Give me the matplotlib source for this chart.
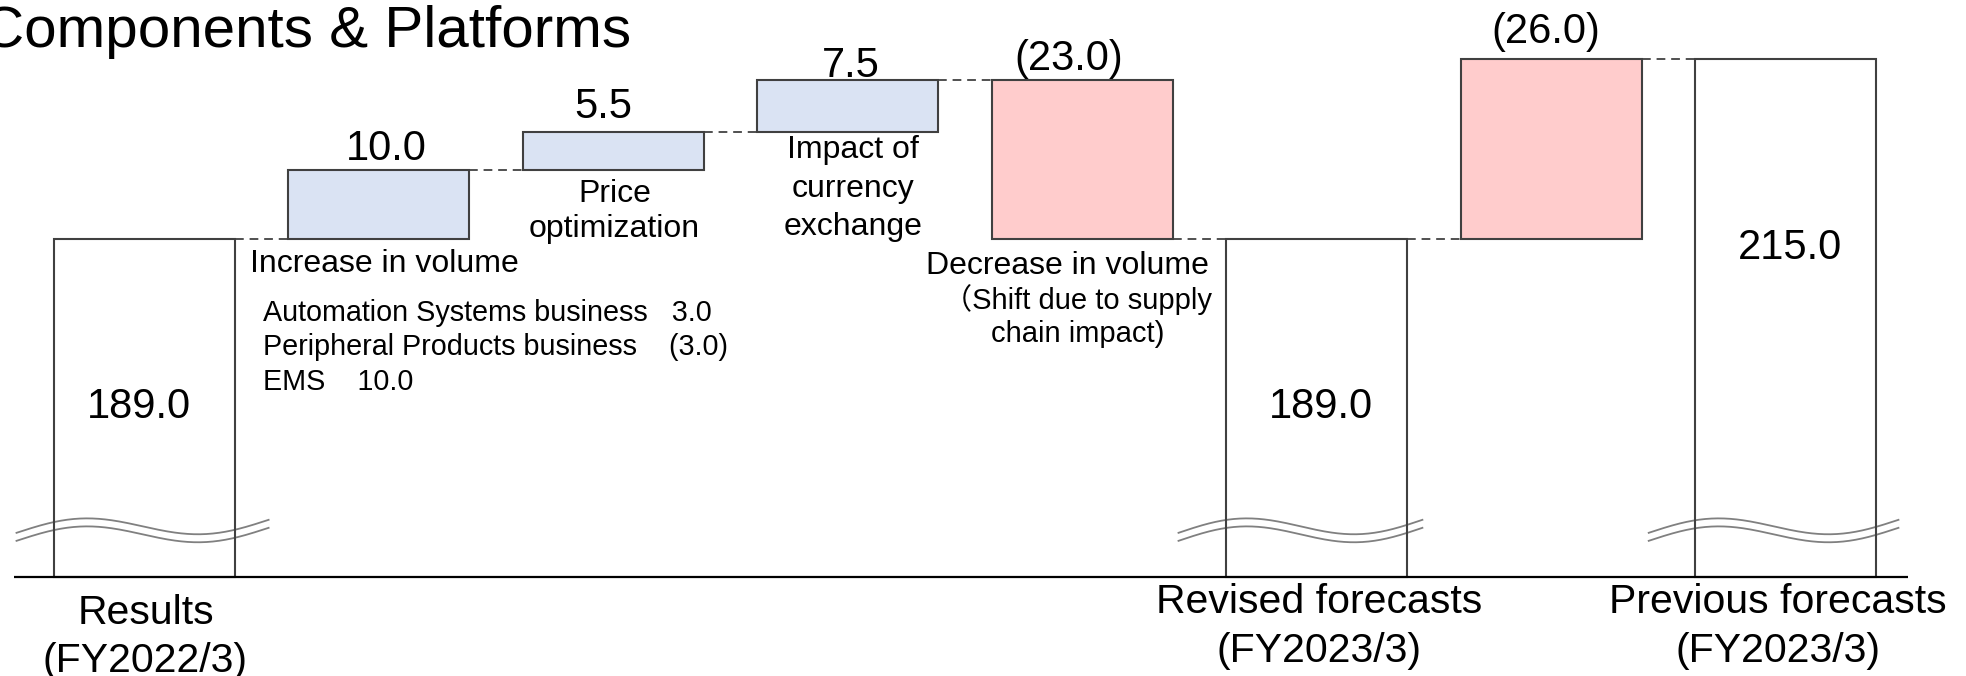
import numpy as np
import matplotlib.pyplot as plt

plt.rcParams['font.family'] = ['Liberation Sans', 'Noto Sans CJK JP', 'DejaVu Sans']

# data
title = 'Components & Platforms'
start_label = ['Results', '(FY2022/3)']
start_value = 189.0
change_names = [['Increase in volume'], ['Price', 'optimization'],
                ['Impact of', 'currency', 'exchange'], ['Decrease in volume']]
change_values = [10.0, 5.5, 7.5, -23.0]
revised_label = ['Revised forecasts', '(FY2023/3)']
revised_value = 189.0
previous_label = ['Previous forecasts', '(FY2023/3)']
previous_value = 215.0
volume_names = ['Automation Systems business', 'Peripheral Products business', 'EMS']
volume_values = [3.0, -3.0, 10.0]
supply_note = ['（Shift due to supply', 'chain impact)']
axis_floor = 140.0  # broken axis starts here

blue = '#dae3f3'
red = '#ffcccc'
edge = '#404040'
w = 0.772


def fmt(v):
    return f'{v:.1f}' if v >= 0 else f'({-v:.1f})'


# waterfall geometry
bottoms, tops, fills, levels = [axis_floor], [start_value], ['white'], [start_value]
level = start_value
for v in change_values:
    lo, hi = sorted([level, level + v])
    bottoms.append(lo)
    tops.append(hi)
    fills.append(blue if v > 0 else red)
    level += v
    levels.append(level)
bottoms.append(axis_floor)
tops.append(revised_value)
fills.append('white')
levels.append(revised_value)
gap = revised_value - previous_value
bottoms.append(min(revised_value, previous_value))
tops.append(max(revised_value, previous_value))
fills.append(red if gap < 0 else blue)
levels.append(previous_value)
bottoms.append(axis_floor)
tops.append(previous_value)
fills.append('white')

x = np.arange(len(tops))
heights = np.array(tops) - np.array(bottoms)

fig = plt.figure(figsize=(19.66, 6.76), dpi=100)
ax = fig.add_axes([0, 0, 1, 1])
ax.set_xlim(-0.6154, 7.768)
ax.set_ylim(125.65, 223.62)
ax.axis('off')

ax.bar(x, heights, bottom=bottoms, width=w, color=fills, edgecolor='none', zorder=1)
ax.bar(x, heights, bottom=bottoms, width=w, fill=False, edgecolor=edge, lw=1.5, zorder=3)

# connectors
ax.hlines(levels, x[:-1] + w / 2, x[1:] - w / 2, colors='#505050',
          linestyles=(0, (4.5, 3)), lw=1.4, zorder=2)

# wavy break marks on the total bars
t = np.linspace(0, 1, 200)
wave = (13 * t + 11 * np.sin(2 * np.pi * t)) / 6.9
band = 1.16
for i, (l, r) in zip([0, 5, 7], [(-0.545, 0.53), (-0.59, 0.45), (-0.585, 0.48)]):
    xs = i + l + (r - l) * t
    up = 146.4 + wave
    ax.fill_between(xs, up - band, up, color='white', lw=0, zorder=2)
    ax.plot(xs, up, color='#808080', lw=1.3, zorder=2.5)
    ax.plot(xs, up - band, color='#808080', lw=1.3, zorder=2.5)

ax.plot([-0.556, 7.521], [axis_floor, axis_floor], color='black', lw=1.6,
        solid_capstyle='butt', zorder=4)

# value labels
big = 30
for i, (v, dx, pad) in enumerate(zip(change_values, [0.03, -0.044, 0.014, -0.06],
                                     [1.5, 2.0, 0.5, 1.5])):
    ax.text(i + 1 + dx, tops[i + 1] + pad, fmt(v), fontsize=big, ha='center', va='baseline')
ax.text(6 - 0.023, tops[6] + 2.4, fmt(gap), fontsize=big, ha='center', va='baseline')
ax.text(0 - 0.025, start_value - 26, fmt(start_value), fontsize=big, ha='center', va='baseline')
ax.text(5 + 0.016, revised_value - 26, fmt(revised_value), fontsize=big, ha='center', va='baseline')
ax.text(7 + 0.018, previous_value - 28.9, fmt(previous_value), fontsize=big, ha='center', va='baseline')


def put_lines(xp, y0, lines, size, step, ha='center'):
    for k, s in enumerate(lines):
        ax.text(xp, y0 - k * step, s, fontsize=size, ha=ha, va='baseline')


# category labels under the axis
put_lines(0.005, 133.2, start_label, 29.5, 6.96)
put_lines(5.009, 134.78, revised_label, 29.5, 7.1)
put_lines(6.967, 134.78, previous_label, 29.5, 7.1)

# change descriptions
put_lines(1.024, 184.2, change_names[0], 23, 5)
put_lines(2.005, 194.35, change_names[1], 23, 5.1)
put_lines(3.022, 200.72, change_names[2], 23, 5.6)
put_lines(3.937, 183.9, change_names[3], 23, 5)
ax.text(4.553, 178.84, supply_note[0], fontsize=21, ha='right', va='baseline')
ax.text(3.982, 174.06, supply_note[1], fontsize=21, ha='center', va='baseline')

gaps = ['   ', '    ', '    ']
detail = [n + g + fmt(v) for n, g, v in zip(volume_names, gaps, volume_values)]
put_lines(0.507, 177.1, detail, 20.7, 5.0, ha='left')

fig.text(631 / 1966, 1 - 47 / 676, title, fontsize=42, ha='right', va='baseline')

fig.savefig('out.png', dpi=100)
